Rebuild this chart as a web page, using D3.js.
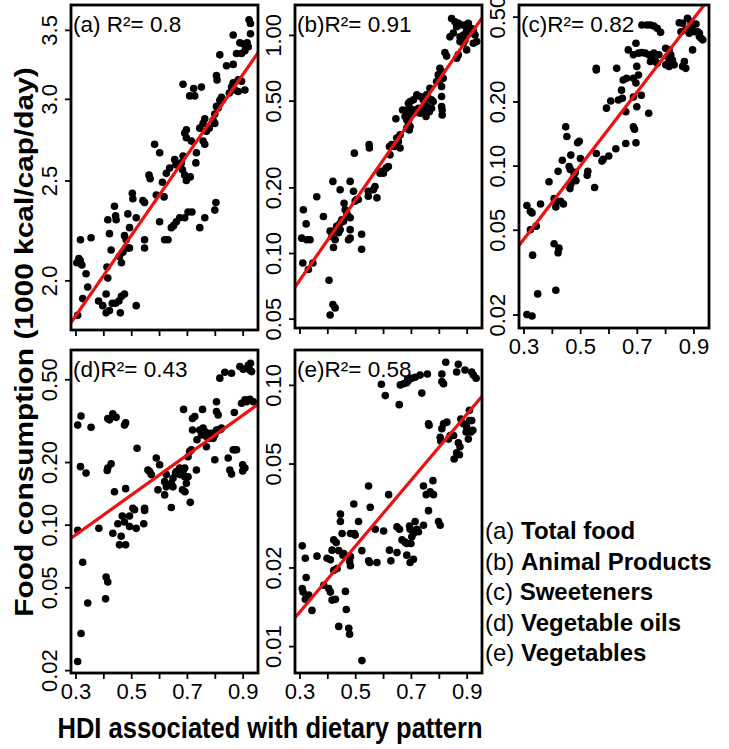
<!DOCTYPE html>
<html><head><meta charset="utf-8">
<script src="https://cdn.jsdelivr.net/npm/d3@7"></script>
<style>body{margin:0;background:#fff} svg{display:block}</style>
</head><body>
<svg id="chart" width="729" height="749"></svg>
<script>
// ---- data: [HDI, consumption (1000 kcal/cap/day)] ----
const totalFood = [[.923,3.58],[.928,3.55],[.866,3.46],[.928,3.47],[.890,3.40],[.904,3.39],[.916,3.40],[.92,3.37],[.908,3.34],[.896,3.32],[.878,3.32],[.818,3.31],[.842,3.23],[.866,3.24],[.806,3.16],[.808,3.13],[.866,3.11],[.884,3.13],[.896,3.12],[.860,3.08],[.872,3.06],[.908,3.06],[.852,3.04],[.884,3.05],[.824,3.01],[.818,2.99],[.806,2.95],[.812,2.94],[.80,2.90],[.686,3.10],[.724,3.07],[.71,3.02],[.728,3.02],[.752,3.08],[.764,2.87],[.746,2.81],[.77,2.79],[.794,2.86],[.80,2.84],[.758,2.84],[.78,2.81],[.698,2.80],[.692,2.78],[.698,2.75],[.716,2.73],[.758,2.73],[.764,2.71],[.656,2.62],[.66,2.59],[.686,2.64],[.68,2.60],[.684,2.56],[.692,2.53],[.698,2.50],[.712,2.52],[.734,2.66],[.732,2.60],[.638,2.57],[.626,2.54],[.612,2.49],[.584,2.71],[.602,2.66],[.564,2.53],[.568,2.51],[.542,2.39],[.548,2.38],[.506,2.40],[.504,2.43],[.59,2.42],[.618,2.41],[.44,2.36],[.444,2.31],[.446,2.29],[.416,2.29],[.422,2.22],[.428,2.14],[.356,2.20],[.318,2.19],[.488,2.32],[.494,2.25],[.476,2.21],[.482,2.19],[.488,2.15],[.47,2.13],[.458,2.11],[.465,2.08],[.494,2.15],[.518,2.30],[.548,2.19],[.548,2.15],[.602,2.28],[.62,2.19],[.632,2.19],[.644,2.25],[.652,2.26],[.662,2.28],[.674,2.30],[.692,2.30],[.704,2.33],[.718,2.33],[.746,2.25],[.764,2.30],[.80,2.34],[.804,2.38],[.312,2.10],[.317,2.09],[.305,2.08],[.323,2.07],[.338,2.03],[.344,1.97],[.416,2.01],[.413,2.06],[.41,1.94],[.398,1.89],[.41,1.86],[.422,1.87],[.432,1.90],[.444,1.90],[.456,1.91],[.465,1.93],[.476,1.94],[.461,1.86],[.518,1.89],[.326,1.92],[.383,1.91],[.308,1.85]];

const animalProducts = [[.846,1.19],[.858,1.15],[.870,1.13],[.882,1.11],[.864,1.09],[.894,1.11],[.906,1.13],[.900,1.05],[.918,1.07],[.924,1.04],[.912,1.02],[.888,1.00],[.876,.98],[.852,1.02],[.840,.98],[.930,1.00],[.936,.932],[.924,.916],[.894,.949],[.876,.932],[.888,.916],[.900,.854],[.870,.810],[.864,.782],[.822,.83],[.828,.80],[.804,.703],[.810,.679],[.798,.656],[.816,.633],[.804,.622],[.792,.612],[.810,.580],[.810,.522],[.810,.47],[.812,.453],[.812,.43],[.768,.570],[.756,.531],[.762,.513],[.774,.504],[.780,.495],[.744,.504],[.721,.531],[.733,.522],[.709,.504],[.697,.495],[.691,.486],[.697,.461],[.685,.453],[.691,.430],[.709,.438],[.715,.453],[.727,.461],[.733,.438],[.744,.453],[.754,.423],[.766,.445],[.756,.473],[.774,.461],[.679,.423],[.685,.408],[.691,.394],[.697,.380],[.694,.367],[.685,.374],[.670,.453],[.646,.413],[.661,.348],[.649,.337],[.655,.325],[.631,.314],[.623,.308],[.640,.308],[.661,.303],[.625,.282],[.619,.249],[.611,.245],[.595,.237],[.601,.232],[.589,.232],[.550,.314],[.551,.303],[.497,.287],[.571,.202],[.565,.195],[.547,.192],[.547,.182],[.578,.179],[.505,.176],[.511,.176],[.50,.173],[.494,.192],[.482,.213],[.460,.169],[.464,.158],[.470,.152],[.476,.147],[.458,.140],[.452,.142],[.446,.137],[.434,.133],[.446,.128],[.440,.124],[.422,.126],[.410,.126],[.416,.119],[.428,.115],[.422,.106],[.482,.145],[.482,.128],[.482,.117],[.476,.115],[.523,.122],[.523,.104],[.446,.195],[.420,.213],[.314,.158],[.324,.136],[.308,.117],[.326,.115],[.338,.115],[.362,.181],[.386,.147],[.312,.090],[.332,.084],[.348,.090],[.406,.075],[.420,.058],[.428,.056],[.410,.052]];

const sweeteners = [[.850,.468],[.862,.465],[.879,.491],[.891,.474],[.909,.462],[.895,.449],[.873,.433],[.856,.425],[.885,.418],[.903,.425],[.915,.425],[.921,.403],[.927,.396],[.933,.389],[.921,.418],[.897,.349],[.868,.308],[.873,.286],[.862,.292],[.718,.457],[.736,.457],[.748,.457],[.760,.452],[.772,.441],[.784,.422],[.697,.375],[.670,.349],[.688,.331],[.706,.337],[.718,.339],[.730,.337],[.742,.331],[.754,.319],[.748,.308],[.766,.308],[.760,.337],[.772,.302],[.802,.355],[.814,.349],[.808,.325],[.820,.331],[.826,.313],[.814,.308],[.832,.297],[.802,.297],[.814,.292],[.778,.331],[.557,.286],[.557,.281],[.629,.286],[.700,.292],[.706,.266],[.688,.257],[.697,.244],[.652,.252],[.664,.257],[.646,.226],[.649,.207],[.635,.203],[.688,.210],[.700,.189],[.716,.214],[.742,.176],[.608,.201],[.593,.186],[.661,.179],[.688,.152],[.692,.148],[.697,.128],[.661,.127],[.626,.120],[.601,.111],[.581,.107],[.577,.105],[.557,.114],[.449,.152],[.453,.137],[.491,.128],[.497,.130],[.501,.108],[.467,.112],[.437,.106],[.461,.099],[.465,.096],[.483,.093],[.479,.091],[.527,.094],[.525,.090],[.473,.086],[.467,.082],[.464,.078],[.485,.085],[.551,.079],[.422,.094],[.390,.084],[.360,.066],[.417,.068],[.414,.064],[.431,.068],[.441,.066],[.408,.070],[.312,.065],[.324,.061],[.330,.060],[.324,.050],[.345,.052],[.332,.038],[.408,.043],[.425,.041],[.422,.039],[.350,.025],[.414,.026],[.312,.020],[.330,.0197]];

const vegetableOils = [[.308,.301],[.320,.333],[.356,.294],[.318,.190],[.338,.177],[.308,.094],[.326,.066],[.410,.056],[.416,.053],[.344,.042],[.408,.044],[.320,.030],[.308,.022],[.416,.324],[.422,.319],[.434,.341],[.446,.328],[.416,.187],[.414,.182],[.428,.196],[.480,.309],[.476,.301],[.521,.233],[.440,.144],[.480,.149],[.434,.091],[.452,.101],[.464,.088],[.458,.080],[.480,.080],[.468,.110],[.476,.103],[.494,.110],[.506,.120],[.512,.118],[.494,.098],[.518,.096],[.548,.120],[.548,.117],[.545,.101],[.384,.096],[.590,.209],[.566,.180],[.572,.174],[.560,.183],[.602,.194],[.596,.147],[.620,.139],[.626,.152],[.626,.174],[.620,.161],[.644,.158],[.650,.167],[.650,.152],[.659,.177],[.662,.180],[.644,.121],[.638,.155],[.674,.187],[.680,.177],[.686,.180],[.692,.187],[.692,.170],[.688,.358],[.674,.174],[.684,.147],[.693,.144],[.698,.158],[.704,.170],[.712,.128],[.704,.212],[.710,.225],[.720,.324],[.728,.331],[.720,.285],[.716,.229],[.734,.183],[.736,.256],[.746,.285],[.752,.270],[.758,.291],[.764,.280],[.770,.265],[.776,.275],[.782,.260],[.788,.275],[.794,.260],[.800,.270],[.812,.284],[.806,.285],[.820,.287],[.824,.291],[.756,.358],[.770,.237],[.806,.350],[.812,.337],[.806,.390],[.818,.506],[.800,.205],[.848,.209],[.854,.183],[.860,.175],[.866,.229],[.872,.229],[.878,.229],[.870,.346],[.860,.534],[.836,.54],[.900,.194],[.908,.187],[.900,.181],[.896,.383],[.908,.398],[.914,.390],[.926,.400],[.938,.390],[.920,.584],[.926,.553],[.902,.558],[.890,.575],[.928,.596],[.932,.544]];

const vegetables = [[.594,.1006],[.608,.091],[.662,.100],[.674,.101],[.685,.102],[.691,.104],[.703,.106],[.715,.107],[.733,.109],[.688,.105],[.739,.093],[.658,.084],[.759,.110],[.811,.110],[.811,.103],[.817,.101],[.825,.122],[.870,.120],[.864,.112],[.894,.114],[.918,.112],[.924,.109],[.934,.106],[.763,.071],[.765,.070],[.817,.071],[.811,.068],[.829,.072],[.805,.063],[.807,.061],[.835,.062],[.841,.064],[.853,.064],[.879,.074],[.888,.071],[.910,.073],[.918,.073],[.922,.067],[.900,.069],[.898,.066],[.906,.062],[.915,.066],[.870,.060],[.876,.058],[.864,.055],[.855,.052],[.874,.054],[.910,.080],[.745,.041],[.755,.038],[.779,.043],[.769,.039],[.781,.038],[.763,.033],[.745,.029],[.799,.030],[.805,.029],[.620,.038],[.548,.041],[.554,.034],[.495,.035],[.512,.030],[.447,.032],[.447,.030],[.453,.027],[.483,.027],[.497,.027],[.500,.0266],[.423,.0255],[.432,.0249],[.417,.0233],[.411,.0214],[.441,.0232],[.459,.0226],[.483,.022],[.480,.0211],[.483,.0203],[.456,.0223],[.524,.0232],[.548,.0212],[.552,.0209],[.578,.0209],[.572,.028],[.602,.0276],[.623,.0233],[.628,.0212],[.650,.0228],[.650,.0286],[.659,.028],[.668,.0255],[.679,.025],[.685,.0247],[.695,.0288],[.697,.028],[.703,.0262],[.709,.027],[.721,.028],[.715,.030],[.700,.0247],[.685,.0223],[.697,.0209],[.709,.0215],[.727,.0274],[.310,.0242],[.321,.0217],[.324,.0183],[.310,.0166],[.313,.0161],[.321,.0151],[.333,.0157],[.345,.0137],[.363,.0221],[.387,.0171],[.405,.0166],[.411,.0161],[.417,.0150],[.429,.0151],[.423,.0195],[.435,.0198],[.399,.0217],[.465,.0162],[.468,.0138],[.441,.0119],[.477,.0117],[.480,.0111],[.524,.0088]];

// fitted lines: log10(y) = intercept + slope * HDI
const fitIntercepts = [0.1494, -1.678, -1.865, -1.338, -2.250];
const fitSlopes     = [0.390, 1.839, 1.726, 0.960, 1.263];
const r2Values = ["0.8", "0.91", "0.82", "0.43", "0.58"];
const panelLetters = ["a", "b", "c", "d", "e"];
const categories = ["Total food", "Animal Products", "Sweeteners", "Vegetable oils", "Vegetables"];

const xTicks = [0.3, 0.4, 0.5, 0.6, 0.7, 0.8, 0.9];
const xTickLabels = [0.3, 0.5, 0.7, 0.9];
const yTicksA = [2.0, 2.5, 3.0, 3.5];
const yTicksB = [0.05, 0.10, 0.20, 0.50, 1.00];
const yTicksC = [0.02, 0.05, 0.10, 0.20, 0.50];
const yTicksD = [0.02, 0.05, 0.10, 0.20, 0.50];
const yTicksE = [0.01, 0.02, 0.05, 0.10];

// ---- layout ----
const FONT = "'Liberation Sans', Arial, Helvetica, sans-serif";
const panels = [
  {data: totalFood,      box: [71, 5, 258, 330],   yDom: [1.79, 3.70],  yTicks: yTicksA, fmt: ".1f", sep: " ", xLab: false},
  {data: animalProducts, box: [295, 5, 482, 328],  yDom: [0.0453, 1.372], yTicks: yTicksB, fmt: ".2f", sep: "", xLab: false},
  {data: sweeteners,     box: [519, 5, 709, 328],  yDom: [0.0173, 0.567], yTicks: yTicksC, fmt: ".2f", sep: "", xLab: true},
  {data: vegetableOils,  box: [71, 350, 258, 673], yDom: [0.01937, 0.691], yTicks: yTicksD, fmt: ".2f", sep: "", xLab: true},
  {data: vegetables,     box: [295, 350, 482, 673],yDom: [0.00789, 0.136], yTicks: yTicksE, fmt: ".2f", sep: "", xLab: true}
];

const svg = d3.select("#chart");
svg.append("rect").attr("width", 729).attr("height", 749).attr("fill", "#fff");

panels.forEach((p, i) => {
  const [x0, y0, x1, y1] = p.box;
  const x = d3.scaleLinear().domain([0.284, 0.955]).range([x0, x1]);
  const y = d3.scaleLog().domain(p.yDom).range([y1, y0]);
  const g = svg.append("g");

  const clipId = "clip" + i;
  svg.append("clipPath").attr("id", clipId).append("rect")
    .attr("x", x0).attr("y", y0).attr("width", x1 - x0).attr("height", y1 - y0);

  // x axis
  const xa = g.append("g").attr("transform", `translate(0,${y1})`)
    .call(d3.axisBottom(x).tickValues(xTicks).tickSize(6)
      .tickFormat(d => (p.xLab && xTickLabels.some(v => Math.abs(v - d) < 1e-9)) ? d3.format(".1f")(d) : ""));
  xa.select(".domain").remove();
  xa.selectAll("line").attr("stroke", "#000").attr("stroke-width", 1.8);
  xa.selectAll("text").attr("font-family", FONT).attr("font-size", 22).attr("fill", "#000")
    .attr("dy", 0).attr("y", 26);

  // y axis
  const ya = g.append("g").attr("transform", `translate(${x0},0)`)
    .call(d3.axisLeft(y).tickValues(p.yTicks).tickSize(6).tickFormat(d3.format(p.fmt)));
  ya.select(".domain").remove();
  ya.selectAll("line").attr("stroke", "#000").attr("stroke-width", 1.8);
  ya.selectAll("text").attr("font-family", FONT).attr("font-size", 22).attr("fill", "#000")
    .attr("transform", "rotate(-90)").attr("x", 0).attr("y", -14).attr("dy", 0)
    .attr("text-anchor", "middle");

  // panel label
  g.append("text").attr("x", x0 + 2).attr("y", y0 + 27)
    .attr("font-family", FONT).attr("font-size", 22.5).attr("fill", "#000")
    .text(`(${panelLetters[i]})${p.sep}R²= ${r2Values[i]}`);

  // points
  g.append("g").selectAll("circle").data(p.data).join("circle")
    .attr("cx", d => x(d[0])).attr("cy", d => y(d[1])).attr("r", 3.8).attr("fill", "#000");

  // regression line
  const xs = x.domain();
  const line = d3.line().x(d => x(d)).y(d => y(Math.pow(10, fitIntercepts[i] + fitSlopes[i] * d)));
  g.append("path").datum(xs).attr("d", line).attr("clip-path", `url(#${clipId})`)
    .attr("fill", "none").attr("stroke", "#ee1111").attr("stroke-width", 3.2);

  // box
  g.append("rect").attr("x", x0).attr("y", y0).attr("width", x1 - x0).attr("height", y1 - y0)
    .attr("fill", "none").attr("stroke", "#000").attr("stroke-width", 2.8);
});

// axis titles
svg.append("text").attr("transform", "translate(33,342) rotate(-90) scale(1.15,1)")
  .attr("text-anchor", "middle").attr("font-family", FONT).attr("font-weight", "bold")
  .attr("font-size", 26).attr("fill", "#000").text("Food consumption (1000 kcal/cap/day)");
svg.append("text").attr("transform", "translate(270,738) scale(0.85,1)")
  .attr("text-anchor", "middle").attr("font-family", FONT).attr("font-weight", "bold")
  .attr("font-size", 30).attr("fill", "#000").text("HDI associated with dietary pattern");

// legend
const leg = svg.append("g");
categories.forEach((c, i) => {
  const t = leg.append("text").attr("x", 485).attr("y", 539 + i * 30.5)
    .attr("font-family", FONT).attr("font-size", 24).attr("fill", "#000");
  t.append("tspan").text(`(${panelLetters[i]}) `);
  t.append("tspan").attr("font-weight", "bold").text(c);
});
</script>
</body></html>
